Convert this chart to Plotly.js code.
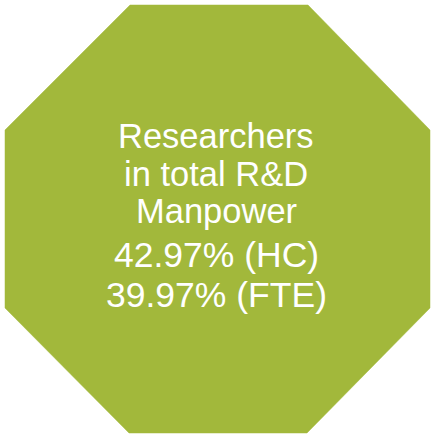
<!DOCTYPE html>
<html>
<head>
<meta charset="utf-8">
<script src="https://cdn.plot.ly/plotly-3.0.1.min.js"></script>
<style>html,body{margin:0;padding:0;background:#fff;}#chart{width:432px;height:436px;}</style>
</head>
<body>
<div id="chart"></div>
<script>
// Text content of the label
var lines = ["Researchers", "in total R&D", "Manpower", "42.97% (HC)", "39.97% (FTE)"];
// Octagon outline (pixel space)
var octX = [130, 308, 430, 430, 307, 129, 5, 5, 130];
var octY = [5, 5, 130, 308, 433, 433, 308, 130, 5];
var baselines = [148, 186, 223, 267.5, 307.5];
var sizes = [34.5, 34.5, 34.5, 35.5, 35.5];

var trace = {
  x: octX, y: octY, type: 'scatter', mode: 'lines', fill: 'toself',
  fillcolor: '#A2B83B', line: {color: '#A2B83B', width: 0.5},
  hoverinfo: 'skip', showlegend: false
};
var annotations = lines.map(function(t, i) {
  return {
    text: t.replace('&', '&amp;'), x: 216, y: baselines[i] - sizes[i] * 0.36,
    xref: 'x', yref: 'y', xanchor: 'center', yanchor: 'middle',
    showarrow: false,
    font: {family: 'Liberation Sans, Arial, sans-serif', size: sizes[i], color: '#ffffff'}
  };
});
var layout = {
  width: 432, height: 436,
  margin: {l: 0, r: 0, t: 0, b: 0, pad: 0},
  paper_bgcolor: '#ffffff', plot_bgcolor: '#ffffff',
  xaxis: {range: [0, 432], visible: false, fixedrange: true},
  yaxis: {range: [436, 0], visible: false, fixedrange: true},
  annotations: annotations,
  showlegend: false
};
Plotly.newPlot('chart', [trace], layout, {displayModeBar: false, staticPlot: true});
</script>
</body>
</html>
